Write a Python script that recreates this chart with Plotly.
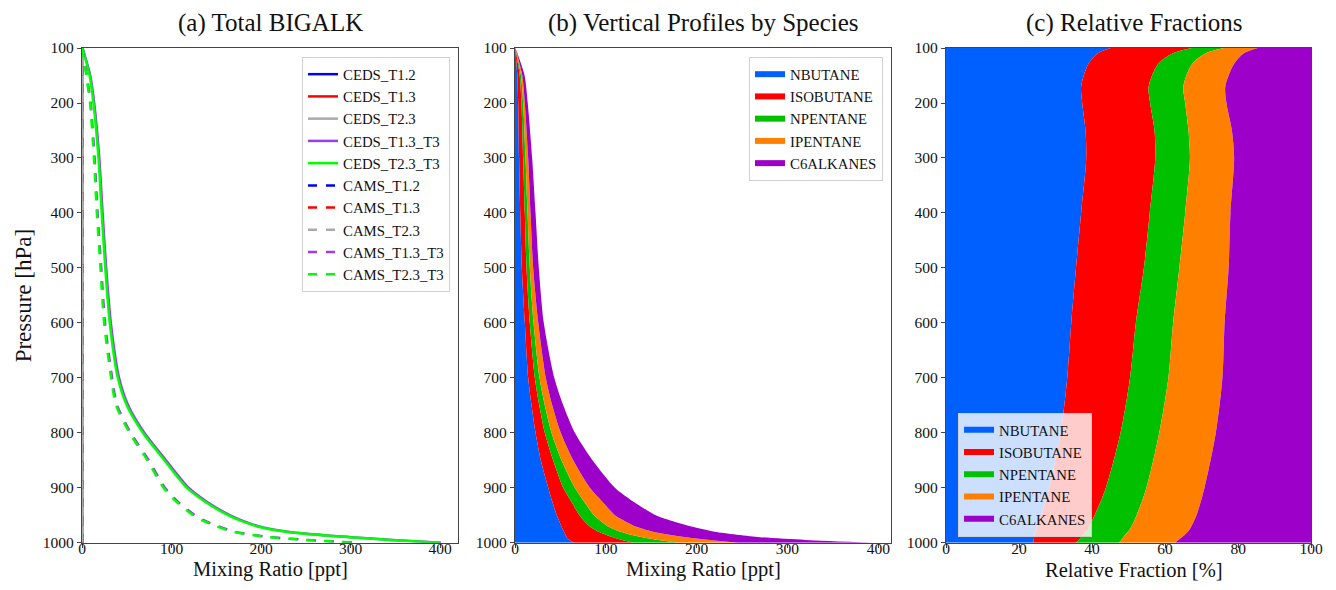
import plotly.graph_objects as go

# ---------------- data ----------------
# Panel (a): total BIGALK profiles [ppt]
pressure_a = [100, 150, 200, 300, 400, 500, 600, 700, 750, 800, 850, 900, 925, 950, 960, 970, 980, 990, 995, 1000]
ceds_t12 = [0] * 20
ceds_t13 = [0] * 20
ceds_t23 = [0] * 20
ceds_t13_t3 = [0.6, 9.2, 13.6, 19.3, 23.0, 27.0, 32.2, 41.4, 51.5, 69.6, 93.8, 119, 139, 165, 179, 197, 230, 300, 347, 401]
ceds_t23_t3 = [0.5, 8.5, 12.8, 18.4, 22.0, 26.0, 31.0, 40.0, 50.0, 68.0, 92.0, 117, 137, 163, 177, 195, 228, 298, 345, 400]
cams_t12 = [0] * 20
cams_t13 = [0] * 20
cams_t23 = [0] * 20
cams_t13_t3 = [0.4, 5.3, 9.7, 14.1, 17.4, 21.5, 25.7, 33.6, 39.2, 54.3, 74.5, 92.6, 106.7, 126, 137, 152, 170, 210, 252, 305]
cams_t23_t3 = [0.3, 4.7, 9.0, 13.3, 16.6, 20.6, 24.7, 32.5, 38.0, 53.0, 73.0, 91.0, 105.0, 124, 135, 150, 168, 208, 250, 303]

# Panel (b): species mixing ratios [ppt]
pressure_b = [100, 150, 200, 300, 400, 500, 600, 700, 750, 800, 850, 900, 925, 950, 960, 970, 980, 990, 995, 1000]
nbutane = [0.2, 2.5, 3.5, 4.5, 5.8, 7.5, 10.8, 14.5, 18.2, 22.6, 28.4, 36.6, 41.0, 46, 48.5, 51, 54, 57, 60, 65]
isobutane = [0.1, 2.7, 3.6, 4.5, 5.0, 5.2, 5.5, 7.3, 8.5, 10.2, 13.6, 16.5, 21.0, 25, 27.5, 31, 38, 51, 58, 65]
npentane = [0.05, 1.4, 1.9, 2.6, 3.0, 3.6, 4.1, 5.2, 6.1, 7.4, 9.2, 12.8, 14.0, 16, 18, 20, 24, 32, 40, 50]
ipentane = [0.05, 1.4, 1.8, 2.9, 3.3, 3.7, 5.2, 6.9, 8.2, 10.2, 12.9, 16.5, 20.0, 23, 26, 30, 36, 48, 57, 65]
c6alkanes = [0.1, 2.5, 3.2, 4.4, 5.5, 6.2, 6.1, 9.3, 12.1, 15.5, 21.2, 27.6, 34.0, 45, 52, 61, 68, 82, 105, 149]

# Panel (c): relative fractions [%]
pressure_c = [100, 110, 130, 170, 200, 250, 300, 400, 500, 600, 700, 800, 900, 950, 975, 985, 997, 1000]
frac_nbutane = [45.1, 41.5, 38.9, 37.0, 37.3, 38.2, 38.4, 37.0, 35.6, 34.3, 33.2, 31.4, 28.3, 26.1, 24.8, 24.3, 24.0, 24.0]
frac_isobutane = [22.2, 20.5, 19.1, 18.5, 18.6, 18.9, 18.9, 18.8, 18.6, 17.7, 17.2, 16.4, 15.5, 14.6, 14.1, 13.3, 12.1, 11.5]
frac_npentane = [8.8, 9.0, 9.3, 9.5, 9.6, 9.3, 9.5, 9.7, 9.7, 10.2, 10.5, 10.6, 11.1, 11.5, 11.5, 11.5, 11.7, 11.8]
frac_ipentane = [9.3, 10.5, 11.5, 11.5, 11.3, 11.9, 12.1, 12.4, 13.5, 14.1, 14.8, 15.5, 15.9, 16.4, 16.4, 16.4, 15.5, 15.5]
frac_c6alkanes = [14.6, 18.5, 21.2, 23.5, 23.2, 21.7, 21.1, 22.1, 22.6, 23.7, 24.3, 26.1, 29.2, 31.4, 33.2, 34.5, 36.7, 37.2]

pressure_ticks = [100, 200, 300, 400, 500, 600, 700, 800, 900, 1000]
mix_ticks = [0, 100, 200, 300, 400]
frac_ticks = [0, 20, 40, 60, 80, 100]

line_names = ["T1.2", "T1.3", "T2.3", "T1.3_T3", "T2.3_T3"]
line_colors = ["#0000ff", "#ff0000", "#aaaaaa", "#9a3cf0", "#00ff00"]
species_names = ["NBUTANE", "ISOBUTANE", "NPENTANE", "IPENTANE", "C6ALKANES"]
species_colors = ["#0060ff", "#ff0000", "#00c000", "#ff8000", "#9d00c8"]

# ---------------- figure ----------------
FONT = "Liberation Serif, Times New Roman, serif"
W, H = 1336, 590
# the page appears slightly shrunk and offset in the photograph; place items accordingly
SX, OX, SY, OY = 0.988, 3.0, 0.970, 8.0


def fxp(s):
    return (s - OX) / SX


def fyp(s):
    return (s - OY) / SY


def px(s):
    return fxp(s) / W


def py(s):
    return 1 - fyp(s) / H


fig = go.Figure()

ceds = [ceds_t12, ceds_t13, ceds_t23, ceds_t13_t3, ceds_t23_t3]
cams = [cams_t12, cams_t13, cams_t23, cams_t13_t3, cams_t23_t3]
for name, col, vals in zip(line_names, line_colors, ceds):
    fig.add_trace(go.Scatter(x=vals, y=pressure_a, mode="lines", name="CEDS_" + name,
                             line=dict(color=col, width=2.5, shape="spline", smoothing=0.7),
                             xaxis="x", yaxis="y", legend="legend"))
for name, col, vals in zip(line_names, line_colors, cams):
    fig.add_trace(go.Scatter(x=vals, y=pressure_a, mode="lines", name="CAMS_" + name,
                             line=dict(color=col, width=2.5, dash="dash", shape="spline", smoothing=0.7),
                             xaxis="x", yaxis="y", legend="legend"))

for name, col, vals in zip(species_names, species_colors,
                           [nbutane, isobutane, npentane, ipentane, c6alkanes]):
    fig.add_trace(go.Scatter(x=vals, y=pressure_b, mode="none", name=name, stackgroup="b",
                             orientation="h", fillcolor=col, line=dict(shape="spline", smoothing=0.7),
                             xaxis="x2", yaxis="y2", legend="legend2"))

for name, col, vals in zip(species_names, species_colors,
                           [frac_nbutane, frac_isobutane, frac_npentane, frac_ipentane, frac_c6alkanes]):
    fig.add_trace(go.Scatter(x=vals, y=pressure_c, mode="none", name=name, stackgroup="c",
                             orientation="h", fillcolor=col, line=dict(shape="spline", smoothing=0.8),
                             xaxis="x3", yaxis="y3", legend="legend3"))

ydom = [py(541), py(47)]
axis_common = dict(showgrid=False, zeroline=False, showline=True, mirror=True, linecolor="#444",
                   linewidth=1.2, ticks="outside", ticklen=4, tickcolor="#444",
                   tickfont=dict(family=FONT, size=15.5, color="#111"))
xaxis_extra = dict(ticklabelstandoff=-12)
leg_font = dict(family=FONT, size=14.8, color="#111")

fig.update_layout(
    width=W, height=H, margin=dict(l=0, r=0, t=0, b=0),
    paper_bgcolor="white", plot_bgcolor="white",
    font=dict(family=FONT, color="#111"),
    xaxis=dict(domain=[px(81), px(457)], range=[0, 420], tickvals=mix_ticks, anchor="y",
               **xaxis_extra, **axis_common),
    yaxis=dict(domain=ydom, range=[1000, 100], tickvals=pressure_ticks, anchor="x", **axis_common),
    xaxis2=dict(domain=[px(514), px(890)], range=[0, 414], tickvals=mix_ticks, anchor="y2",
                **xaxis_extra, **axis_common),
    yaxis2=dict(domain=ydom, range=[1000, 100], tickvals=pressure_ticks, anchor="x2", **axis_common),
    xaxis3=dict(domain=[px(945), 1323 / W], range=[0, 100], tickvals=frac_ticks, anchor="y3",
                **xaxis_extra, **axis_common),
    yaxis3=dict(domain=ydom, range=[1000, 100], tickvals=pressure_ticks, anchor="x3", **axis_common),
    legend=dict(x=px(449), y=py(56), xanchor="right", yanchor="top", bgcolor="white", traceorder="normal",
                bordercolor="#d0d0d0", borderwidth=1, font=leg_font),
    legend2=dict(x=px(882), y=py(56), xanchor="right", yanchor="top", bgcolor="white", traceorder="normal",
                 bordercolor="#d0d0d0", borderwidth=1, font=leg_font),
    legend3=dict(x=px(957), y=py(535), xanchor="left", yanchor="bottom", bgcolor="rgba(255,255,255,0.8)",
                 traceorder="normal", bordercolor="#d0d0d0", borderwidth=1, font=leg_font),
)

titles = [("(a) Total BIGALK", 269), ("(b) Vertical Profiles by Species", 702), ("(c) Relative Fractions", 1133)]
for text, cx in titles:
    fig.add_annotation(text=text, x=px(cx), y=py(22), xref="paper", yref="paper", showarrow=False,
                       xanchor="center", yanchor="middle", borderpad=0,
                       font=dict(family=FONT, size=25, color="#111"))
xlabels = [("Mixing Ratio [ppt]", 269), ("Mixing Ratio [ppt]", 702), ("Relative Fraction [%]", 1133)]
for text, cx in xlabels:
    fig.add_annotation(text=text, x=px(cx), y=0, xref="paper", yref="paper", showarrow=False,
                       xanchor="center", yanchor="bottom", borderpad=0,
                       font=dict(family=FONT, size=20.5, color="#111"))
fig.add_annotation(text="Pressure [hPa]", x=px(22), y=py(294), xref="paper", yref="paper", showarrow=False,
                   textangle=-90, xanchor="center", yanchor="middle", borderpad=0,
                   font=dict(family=FONT, size=23, color="#111"))

fig.write_html("out.html")
